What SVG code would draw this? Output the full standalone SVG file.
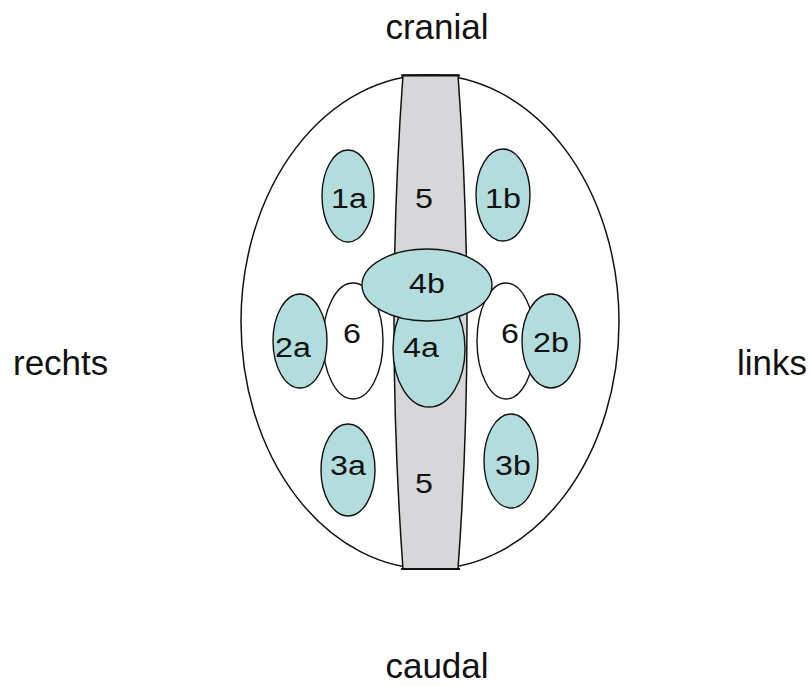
<svg xmlns="http://www.w3.org/2000/svg" width="812" height="687" viewBox="0 0 812 687">
<style>
.lbl{font-family:"Liberation Sans",Arial,sans-serif;font-size:35px;fill:#111}
.num{font-family:"Liberation Sans",Arial,sans-serif;font-size:28px;fill:#111;text-anchor:middle}
.blue{fill:#b3dcdd;stroke:#111;stroke-width:1.4}
.white{fill:#fff;stroke:#111;stroke-width:1.4}
</style>
<rect width="812" height="687" fill="#fff"/>
<g id="head"><ellipse cx="430" cy="322" rx="189" ry="247" fill="#fff" stroke="#111" stroke-width="1.5"/></g>
<g id="band5">
<path d="M403,75 L458,75 Q476,322 458,569 L403,569 Q385,322 403,75 Z" fill="#d7d7d9" stroke="#111" stroke-width="1.5"/>
<line x1="401" y1="75.5" x2="460" y2="75.5" stroke="#111" stroke-width="2"/>
<line x1="401" y1="569" x2="460" y2="569" stroke="#111" stroke-width="2"/>
<text class="num" transform="translate(424,208) scale(1.15,1)">5</text>
<text class="num" transform="translate(424,493) scale(1.15,1)">5</text>
</g>
<g id="n1a"><ellipse class="blue" cx="348" cy="196" rx="26" ry="46"/><text class="num" transform="translate(349,208) scale(1.15,1)">1a</text></g>
<g id="n1b"><ellipse class="blue" cx="503" cy="195" rx="27" ry="46"/><text class="num" transform="translate(503,208) scale(1.15,1)">1b</text></g>
<g id="n3a"><ellipse class="blue" cx="348" cy="470" rx="27" ry="46"/><text class="num" transform="translate(348,475) scale(1.15,1)">3a</text></g>
<g id="n3b"><ellipse class="blue" cx="511" cy="461" rx="27" ry="47"/><text class="num" transform="translate(513,475) scale(1.15,1)">3b</text></g>
<g id="n4a"><ellipse class="blue" cx="429" cy="349" rx="36" ry="58"/><text class="num" transform="translate(421,357) scale(1.15,1)">4a</text></g>
<g id="n6l"><ellipse class="white" cx="353" cy="341" rx="30" ry="58"/><text class="num" transform="translate(352,343) scale(1.15,1)">6</text></g>
<g id="n6r"><ellipse class="white" cx="506" cy="341" rx="29" ry="58"/><text class="num" transform="translate(510,343) scale(1.15,1)">6</text></g>
<g id="n2a"><ellipse class="blue" cx="300" cy="341" rx="27" ry="47"/><text class="num" transform="translate(293,357) scale(1.15,1)">2a</text></g>
<g id="n2b"><ellipse class="blue" cx="551" cy="341" rx="29" ry="47"/><text class="num" transform="translate(551,352) scale(1.15,1)">2b</text></g>
<g id="n4b"><ellipse class="blue" cx="427" cy="285" rx="65" ry="36"/><text class="num" transform="translate(427,293) scale(1.15,1)">4b</text></g>
<g id="labels">
<text class="lbl" x="437" y="39" text-anchor="middle">cranial</text>
<text class="lbl" x="437" y="678" text-anchor="middle">caudal</text>
<text class="lbl" x="13" y="375">rechts</text>
<text class="lbl" x="737" y="375">links</text>
</g>
</svg>
